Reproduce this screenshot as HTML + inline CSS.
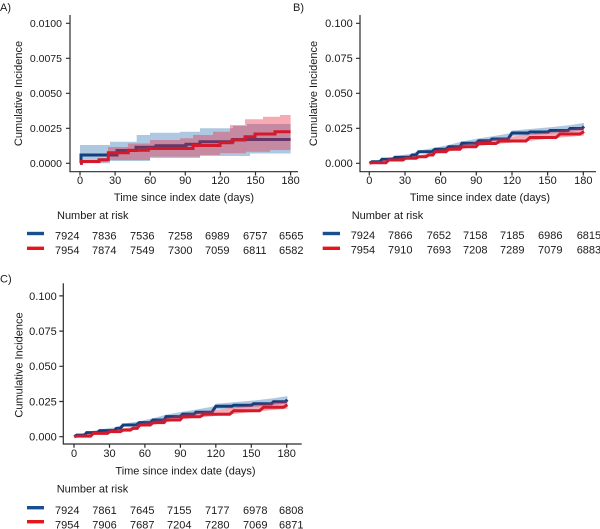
<!DOCTYPE html>
<html><head><meta charset="utf-8"><style>
html,body{margin:0;padding:0;background:#fff;}
svg{display:block;}
text{font-family:"Liberation Sans",Arial,sans-serif;fill:#1a1a1a;}
</style></head><body>
<svg width="600" height="529" viewBox="0 0 600 529" xmlns="http://www.w3.org/2000/svg">
<rect width="600" height="529" fill="#fff"/>

<!-- ============ PANEL A ============ -->
<text x="0" y="11" font-size="11">A)</text>
<!-- bands and lines -->
<polygon fill="rgb(55,118,180)" fill-opacity="0.4" points="80,145 110,145 110,141.7 136.7,141.7 136.7,135 150,135 150,132.7 180,132.7 180,131.7 200,131.7 200,128.3 233,128.3 233,126 247,126 247,124 290.6,124 290.6,153.5 250,153.5 250,156 200,156 200,158 150,158 150,161 110,161 110,163.3 80,163.3"/>
<path d="M80,163.3 H81 V155 H117 V150.5 H136 V147.3 H156 V145.7 H186 V144.3 H200 V141.7 H233 V139.5 H290.6" fill="none" stroke="#123f7d" stroke-width="3"/>
<polygon fill="rgb(232,42,67)" fill-opacity="0.4" points="80,160 108,160 108,147 128,147 128,143.5 150,143.5 150,140 180,140 180,138.3 193,138.3 193,135 213,135 213,131.7 230,131.7 230,125 245,125 245,119.3 263,119.3 263,116.7 280,116.7 280,115 290.6,115 290.6,150 270,150 270,151.7 246,151.7 246,153.3 220,153.3 220,155 200,155 200,156.7 150,156.7 150,160 108,160 108,162 80,163.3"/>
<path d="M80,163.3 H81.5 V161.5 H99 V159.8 H108.3 V152.7 H128.3 V150.2 H148.3 V148.5 H193 V145.5 H220 V142.7 H232 V140 H245 V136.7 H255 V134 H275 V131.7 H290.6" fill="none" stroke="#d4192b" stroke-width="3"/>
<!-- axes -->
<g stroke="#2b2b2b" stroke-width="1.2" fill="none">
<path d="M70,15 V171.7 H298"/>
<path d="M66,23.3 H70 M66,58.3 H70 M66,93.3 H70 M66,128.3 H70 M66,163.3 H70"/>
<path d="M80,171.7 V175.5 M115.1,171.7 V175.5 M150.2,171.7 V175.5 M185.3,171.7 V175.5 M220.4,171.7 V175.5 M255.5,171.7 V175.5 M290.6,171.7 V175.5"/>
</g>
<g font-size="10.5" text-anchor="end">
<text x="62" y="27.2">0.0100</text>
<text x="62" y="62.2">0.0075</text>
<text x="62" y="97.2">0.0050</text>
<text x="62" y="132.2">0.0025</text>
<text x="62" y="167.2">0.0000</text>
</g>
<g font-size="11" text-anchor="middle">
<text x="80" y="184">0</text>
<text x="115.1" y="184">30</text>
<text x="150.2" y="184">60</text>
<text x="185.3" y="184">90</text>
<text x="220.4" y="184">120</text>
<text x="255.5" y="184">150</text>
<text x="290.6" y="184">180</text>
<text x="184" y="201">Time since index date (days)</text>
<text transform="translate(22,93.5) rotate(-90)">Cumulative Incidence</text>
</g>
<text x="57" y="219" font-size="11">Number at risk</text>
<rect x="27" y="231.8" width="17" height="3.4" fill="#1a4f8f"/>
<rect x="27" y="246.6" width="17" height="3.4" fill="#e8141c"/>
<g font-size="11">
<text x="55" y="239.7">7924</text><text x="92" y="239.7">7836</text><text x="130" y="239.7">7536</text><text x="168" y="239.7">7258</text><text x="205" y="239.7">6989</text><text x="243" y="239.7">6757</text><text x="279" y="239.7">6565</text>
<text x="55" y="254.2">7954</text><text x="92" y="254.2">7874</text><text x="130" y="254.2">7549</text><text x="168" y="254.2">7300</text><text x="205" y="254.2">7059</text><text x="243" y="254.2">6811</text><text x="279" y="254.2">6582</text>
</g>

<!-- ============ PANEL B ============ -->
<text x="293" y="11" font-size="11">B)</text>
<g id="bcurves">
<polygon fill="rgb(55,118,180)" fill-opacity="0.4" points="370,162.5 382,158.8 395,156.3 412,153.6 419,150.5 435,147.8 449,144.9 462,141.4 479,138.4 492,136.4 510,133.2 512,130.5 530,129 550,127.3 570,125.1 584,122.9 584,130.1 570,131.9 550,133.7 530,135 512,136.1 510,138.8 492,141.6 479,143.2 462,145.6 449,148.7 435,151.2 419,153.5 412,156.4 395,158.7 382,160.8 370,164.1"/>
<path d="M369.5,163.3 L372,161.7 H380 L382,159.3 H393 L395,157.3 H410 L412,155 H416 L418.7,151.7 H432 L435,149.3 H446 L448.7,146.7 H460 L462,143.3 H476 L478.7,140.8 H490 L492,139 H508 L510,136 L512,133 H528 L530,132 H548 L550,130.5 H568 L570,128.5 H582 L584,126.5" fill="none" stroke="#123f7d" stroke-width="3"/>
<polygon fill="rgb(232,42,67)" fill-opacity="0.4" points="370,162.5 389,159.4 405,157.2 419,155.2 429,153.3 435,150.2 449,147.5 462,144.6 479,141 500,138.2 530,134.3 560,130.4 584,127.5 584,135.5 560,137.6 530,140.7 500,143.8 479,146 462,149 449,151.5 435,153.8 429,156.7 419,158.2 405,159.8 389,161.6 370,164.1"/>
<path d="M369.5,163.3 L372,162.7 H386 L388.7,160 H403 L405.3,158.3 H416 L418.7,156.7 H426 L428.7,155 H433 L435.3,151.7 H446 L448.7,149.3 H460 L462,146.7 H476 L478.7,143.5 H496 L500,141 H526 L530,137.5 H556 L560,134 H580 L584,131.5" fill="none" stroke="#d4192b" stroke-width="3"/>
</g>
<g stroke="#2b2b2b" stroke-width="1.2" fill="none">
<path d="M360,15 V171.7 H596"/>
<path d="M356,23.3 H360 M356,58.3 H360 M356,93.3 H360 M356,128.3 H360 M356,163.3 H360"/>
<path d="M369.3,171.7 V175.5 M405,171.7 V175.5 M440.6,171.7 V175.5 M476.3,171.7 V175.5 M512,171.7 V175.5 M547.6,171.7 V175.5 M583.3,171.7 V175.5"/>
</g>
<g font-size="11" text-anchor="end">
<text x="352.7" y="27.2">0.100</text>
<text x="352.7" y="62.2">0.075</text>
<text x="352.7" y="97.2">0.050</text>
<text x="352.7" y="132.2">0.025</text>
<text x="352.7" y="167.2">0.000</text>
</g>
<g font-size="11" text-anchor="middle">
<text x="369.3" y="184">0</text>
<text x="405" y="184">30</text>
<text x="440.6" y="184">60</text>
<text x="476.3" y="184">90</text>
<text x="512" y="184">120</text>
<text x="547.6" y="184">150</text>
<text x="583.3" y="184">180</text>
<text x="480" y="201">Time since index date (days)</text>
<text transform="translate(317,93.5) rotate(-90)">Cumulative Incidence</text>
</g>
<text x="351.7" y="219" font-size="11">Number at risk</text>
<rect x="322.7" y="231.8" width="17.3" height="3.4" fill="#1a4f8f"/>
<rect x="322.7" y="246.6" width="17.3" height="3.4" fill="#e8141c"/>
<g font-size="11">
<text x="350.7" y="239.2">7924</text><text x="388" y="239.2">7866</text><text x="426.7" y="239.2">7652</text><text x="463" y="239.2">7158</text><text x="500" y="239.2">7185</text><text x="538" y="239.2">6986</text><text x="576.7" y="239.2">6815</text>
<text x="350.7" y="253.7">7954</text><text x="388" y="253.7">7910</text><text x="426.7" y="253.7">7693</text><text x="463" y="253.7">7208</text><text x="500" y="253.7">7289</text><text x="538" y="253.7">7079</text><text x="576.7" y="253.7">6883</text>
</g>

<!-- ============ PANEL C ============ -->
<text x="0" y="282.5" font-size="11">C)</text>
<use href="#bcurves" transform="matrix(0.9938,0,0,1.0057,-293.0,272.47)"/>
<g stroke="#2b2b2b" stroke-width="1.2" fill="none">
<path d="M63.3,283.3 V444 H301.7"/>
<path d="M59.3,295.9 H63.3 M59.3,331.1 H63.3 M59.3,366.3 H63.3 M59.3,401.5 H63.3 M59.3,436.7 H63.3"/>
<path d="M74,444 V447.8 M109.5,444 V447.8 M144.9,444 V447.8 M180.4,444 V447.8 M215.8,444 V447.8 M251.3,444 V447.8 M286.7,444 V447.8"/>
</g>
<g font-size="11" text-anchor="end">
<text x="56.7" y="299.8">0.100</text>
<text x="56.7" y="335">0.075</text>
<text x="56.7" y="370.2">0.050</text>
<text x="56.7" y="405.4">0.025</text>
<text x="56.7" y="440.6">0.000</text>
</g>
<g font-size="11" text-anchor="middle">
<text x="74" y="457.2">0</text>
<text x="109.5" y="457.2">30</text>
<text x="144.9" y="457.2">60</text>
<text x="180.4" y="457.2">90</text>
<text x="215.8" y="457.2">120</text>
<text x="251.3" y="457.2">150</text>
<text x="286.7" y="457.2">180</text>
<text x="185.5" y="474.6">Time since index date (days)</text>
<text transform="translate(22.3,365) rotate(-90)">Cumulative Incidence</text>
</g>
<text x="56.7" y="492.3" font-size="11">Number at risk</text>
<rect x="27" y="506" width="17" height="3.4" fill="#1a4f8f"/>
<rect x="27" y="520" width="17" height="3.4" fill="#e8141c"/>
<g font-size="11">
<text x="55" y="514">7924</text><text x="92.3" y="514">7861</text><text x="130" y="514">7645</text><text x="167" y="514">7155</text><text x="205" y="514">7177</text><text x="243" y="514">6978</text><text x="279" y="514">6808</text>
<text x="55" y="528.4">7954</text><text x="92.3" y="528.4">7906</text><text x="130" y="528.4">7687</text><text x="167" y="528.4">7204</text><text x="205" y="528.4">7280</text><text x="243" y="528.4">7069</text><text x="279" y="528.4">6871</text>
</g>
</svg>
</body></html>
